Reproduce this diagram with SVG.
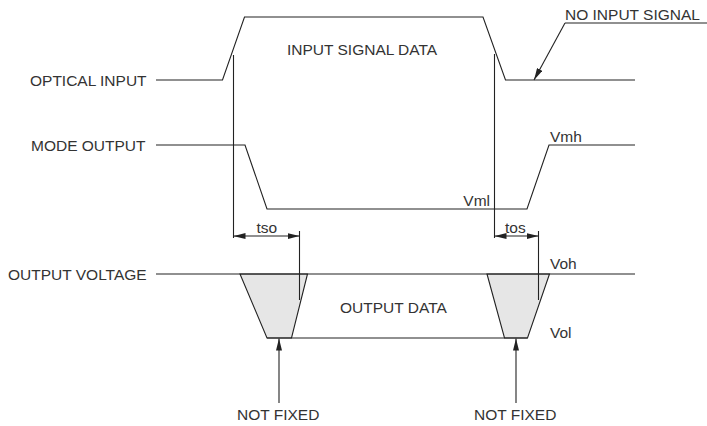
<svg xmlns="http://www.w3.org/2000/svg" width="707" height="426" viewBox="0 0 707 426">
<defs>
<style>
.ln{fill:none;stroke:#222;stroke-width:1.1}
.tx{font-family:"Liberation Sans",Arial,sans-serif;font-size:15.5px;fill:#333}
.sh{fill:#e6e6e6;stroke:#222;stroke-width:1.1}
</style>
<marker id="ah" viewBox="0 0 12 6" refX="12" refY="3" markerWidth="12" markerHeight="6" markerUnits="userSpaceOnUse" orient="auto">
<path d="M0,0 L12,3 L0,6 Z" fill="#222"/>
</marker>
<marker id="ahs" viewBox="0 0 12 6" refX="12" refY="3" markerWidth="12" markerHeight="6" markerUnits="userSpaceOnUse" orient="auto-start-reverse">
<path d="M0,0 L12,3 L0,6 Z" fill="#222"/>
</marker>
</defs>
<rect width="707" height="426" fill="#fff"/>
<g id="optical-input">
<text class="tx" x="30" y="85.5">OPTICAL INPUT</text>
<polyline class="ln" points="156,80 222.5,80 244.5,17 483,17 505.5,80 635,80"/>
<text class="tx" x="287" y="55">INPUT SIGNAL DATA</text>
</g>
<g id="no-input-signal">
<text class="tx" x="565" y="20">NO INPUT SIGNAL</text>
<line class="ln" x1="565" y1="23" x2="707" y2="23"/>
</g>
<g id="mode-output">
<text class="tx" x="31" y="151">MODE OUTPUT</text>
<polyline class="ln" points="156,145 245,145 267,209 527,209 549,145 635,145"/>
<text class="tx" x="550" y="142">Vmh</text>
<text class="tx" x="490" y="206" text-anchor="end">Vml</text>
</g>
<g id="output-voltage">
<text class="tx" x="8" y="280">OUTPUT VOLTAGE</text>
<polygon class="sh" points="240,274 267,338 291.5,338 307.5,274"/>
<polygon class="sh" points="487,274 504.5,338 527.5,338 549.5,274"/>
<line class="ln" x1="156" y1="274" x2="635" y2="274"/>
<line class="ln" x1="267" y1="338" x2="527.5" y2="338"/>
<text class="tx" x="340" y="313">OUTPUT DATA</text>
<text class="tx" x="550" y="269">Voh</text>
<text class="tx" x="550" y="338">Vol</text>
</g>
<g id="not-fixed-1">
<text class="tx" x="237" y="420">NOT FIXED</text>
</g>
<g id="not-fixed-2">
<text class="tx" x="474" y="420">NOT FIXED</text>
</g>
<g id="tso">
<text class="tx" x="256.5" y="232.5">tso</text>
</g>
<g id="tos">
<text class="tx" x="505" y="232.5">tos</text>
</g>
<g id="connectors">
<line class="ln" x1="233.5" y1="55" x2="233.5" y2="238"/>
<line class="ln" x1="494.5" y1="54" x2="494.5" y2="238"/>
<line class="ln" x1="299.5" y1="231" x2="299.5" y2="300"/>
<line class="ln" x1="538.5" y1="231" x2="538.5" y2="300"/>
<line class="ln" x1="233.5" y1="236" x2="299.5" y2="236" marker-start="url(#ahs)" marker-end="url(#ah)"/>
<line class="ln" x1="494.5" y1="236" x2="538.5" y2="236" marker-start="url(#ahs)" marker-end="url(#ah)"/>
<line class="ln" x1="565" y1="23" x2="534" y2="80" marker-end="url(#ah)"/>
<line class="ln" x1="279" y1="403" x2="279" y2="338.5" marker-end="url(#ah)"/>
<line class="ln" x1="516" y1="403" x2="516" y2="338.5" marker-end="url(#ah)"/>
</g>
</svg>
